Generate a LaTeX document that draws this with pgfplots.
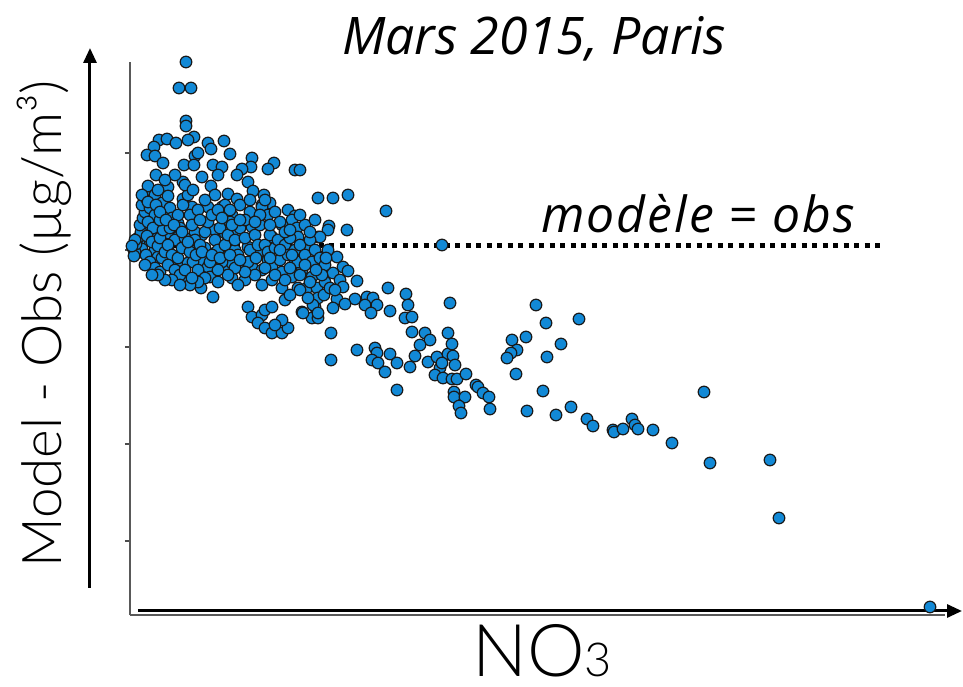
\documentclass[border=0pt]{standalone}
\usepackage{pgfplots}
\pgfplotsset{compat=1.18}
\usetikzlibrary{arrows.meta}
\usepackage{fontspec}
\setmainfont{Open Sans}
\newfontfamily\titlefont{Open Sans}
\newfontfamily\notefont{Open Sans}[LetterSpace=4]
\newfontfamily\labelfont{Lato Light}
\definecolor{dotblue}{RGB}{18,137,214}

% Model minus observation vs NO3 concentration, one point per station and hour
\pgfplotstableread{
x y
56 188
49 162
61 162
56 129
56 124
64 113
58 110
29 110
37 111
46 107
78 107
94 109
24 103
81 101
17 95
25 94
33 87
65 94
68 97
100 96
54 85
64 85
83 85
92 83
122 92
144 87
138 81
121 83
165 80
112 81
107 75
88 75
26 75
72 73
53 68
118 68
81 64
123 59
38 63
134 55
188 52
98 56
107 51
53 51
140 47
132 45
158 40
165 34
22 42
35 43
48 27
62 43
78 43
92 43
102 35
132 43
138 35
162 30
152 25
167 22
188 13
168 13
142 13
122 23
108 17
95 17
85 20
72 15
65 18
48 13
38 17
28 13
15 18
12 7
8 2
25 0
38 2
53 3
65 0
75 2
85 -3
95 -7
105 0
118 3
128 -3
138 -10
152 -3
165 -10
178 0
188 -13
38 -10
48 -12
28 -7
58 -13
72 -10
78 -17
85 -10
95 -17
102 -13
112 -18
122 -17
132 -20
142 -17
152 -22
162 -27
172 -20
182 -27
192 -20
57 -27
80 -27
102 -28
115 -30
132 -35
142 -30
152 -38
168 -38
177 -38
187 -38
71 -38
83 -47
118 -57
122 -67
132 -65
135 -60
128 -73
135 -78
142 -83
152 -83
158 -78
152 -70
145 -75
172 -62
182 -68
188 -68
185 -57
155 -50
142 -57
188 -48
203 52
218 55
256 39
217 20
199 24
198 20
190 13
312 5
170 80
190 -7
207 -7
213 -17
218 -21
203 -23
195 -32
210 -30
227 -31
213 -37
258 -38
276 -44
278 -55
260 -61
275 -68
282 -67
207 -49
225 -49
237 -47
243 -48
235 -55
247 -55
241 -63
203 -58
215 -54
183 -55
188 -63
173 -63
201 -83
201 -110
227 -100
245 -98
247 -103
242 -110
248 -113
260 -104
267 -113
255 -122
267 -140
282 -82
295 -83
300 -90
290 -95
285 -106
280 -117
298 -112
307 -107
310 -118
305 -125
313 -128
318 -83
318 -104
320 -53
406 -55
416 -73
449 -69
396 -87
382 -90
387 -100
381 -103
377 -108
431 -94
417 -107
386 -124
413 -141
397 -161
426 -165
441 -157
457 -169
463 -176
483 -180
322 -94
323 -106
312 -113
325 -115
322 -129
327 -129
336 -124
324 -142
324 -147
335 -147
329 -156
331 -163
346 -135
348 -137
353 -143
359 -147
360 -159
574 -142
484 -182
493 -179
502 -169
505 -175
508 -179
523 -180
542 -193
580 -213
640 -210
649 -268
800 -357
6 2
8 0
7 5
10 -2
5 4
9 7
12 1
8 12
11 18
10 25
13 32
15 38
12 45
16 52
20 58
18 64
22 50
25 55
28 60
20 42
25 35
18 28
23 22
17 14
22 8
28 4
16 -5
20 -12
25 -18
30 -22
15 -15
32 -8
35 -2
30 12
33 20
30 30
35 38
32 47
38 54
40 42
42 32
40 22
45 10
38 5
42 -5
38 -15
45 -20
50 -25
48 -8
52 2
55 12
50 22
48 35
53 45
58 55
60 35
62 25
65 10
60 -2
63 -12
68 -20
70 5
75 18
78 28
82 35
85 10
88 0
90 22
92 -12
95 5
98 15
100 28
105 10
108 -5
110 22
115 12
118 -12
120 0
125 15
128 5
130 25
135 5
138 -2
140 15
145 2
148 10
150 -10
155 5
158 -5
160 12
165 0
168 -12
170 5
175 -5
180 10
182 -12
185 0
190 -8
195 -15
198 0
192 -25
180 -32
170 -25
160 -18
155 -30
145 -25
135 -18
125 -25
115 -22
105 -18
98 -25
88 -20
80 -12
75 -28
68 -32
60 -35
55 -20
42 -30
35 -30
110 45
120 38
115 30
145 38
150 28
175 25
180 18
155 18
130 35
170 35
135 50
85 55
75 50
95 45
102 25
68 40
3 2
4 0
5 -2
6 6
12 55
18 48
26 45
30 38
36 30
44 25
52 18
58 8
66 -5
72 -2
82 -5
90 -8
100 -5
110 -10
126 -8
140 -8
150 0
162 -5
175 -15
186 -20
196 -8
170 -40
160 -45
178 -48
194 -45
200 -38
205 -40
62 -28
50 -35
28 -25
22 -25
88 -32
108 -35
100 40
88 40
110 30
125 28
140 25
160 20
185 30
120 50
55 65
45 75
35 70
63 60
70 30
92 32
5 10
4 -6
2 4
}\scatterdata

\begin{document}
\begin{tikzpicture}
\useasboundingbox (-130bp,-72bp) rectangle (833bp,615bp);
\begin{axis}[
  scale only axis,
  width=815bp, height=553bp,
  xmin=0, xmax=815, ymin=-365, ymax=188,
  axis x line*=bottom, axis y line*=left,
  axis line style={draw=black!65, line width=1.3bp},
  xtick=\empty,
  ytick={-291,-194,-97,0,97}, yticklabels={},
  tick align=outside, major tick length=5bp,
  tick style={draw=black!70, line width=1.3bp},
  clip=false,
]
% station points
\addplot[only marks, mark=*, mark size=5.8bp,
  mark options={fill=dotblue, draw=black!90, line width=1.2bp}]
  table[x=x, y=y] {\scatterdata};
% perfect agreement line
\addplot[black, line width=5bp, dash pattern=on 5bp off 5.5bp]
  coordinates {(10,4) (750,4)};

% axis arrows
\draw[black, line width=3bp, -{Triangle[length=15bp, width=13bp]}]
  (axis cs:8,-361) -- (axis cs:832,-361);
\draw[black, line width=3bp, -{Triangle[length=15bp, width=13bp]}]
  (axis cs:-40,-338) -- (axis cs:-40,202);

\node[anchor=base, inner sep=0pt, font=\titlefont\itshape\fontsize{52}{62}\selectfont]
  at (axis cs:404,195) {Mars 2015, Paris};
\node[anchor=base, inner sep=0pt, font=\notefont\itshape\fontsize{50}{60}\selectfont]
  at (axis cs:568,17) {modèle = obs};
\node[anchor=base, inner sep=0pt, font=\labelfont\fontsize{73}{88}\selectfont]
  at (axis cs:412,-426) {NO{\fontsize{47}{56}\selectfont 3}};
\node[anchor=base, inner sep=0pt, rotate=90, font=\labelfont\fontsize{55}{66}\selectfont]
  at (axis cs:-68,-74) {Model - Obs (µg/m³)};
\end{axis}
\end{tikzpicture}
\end{document}
